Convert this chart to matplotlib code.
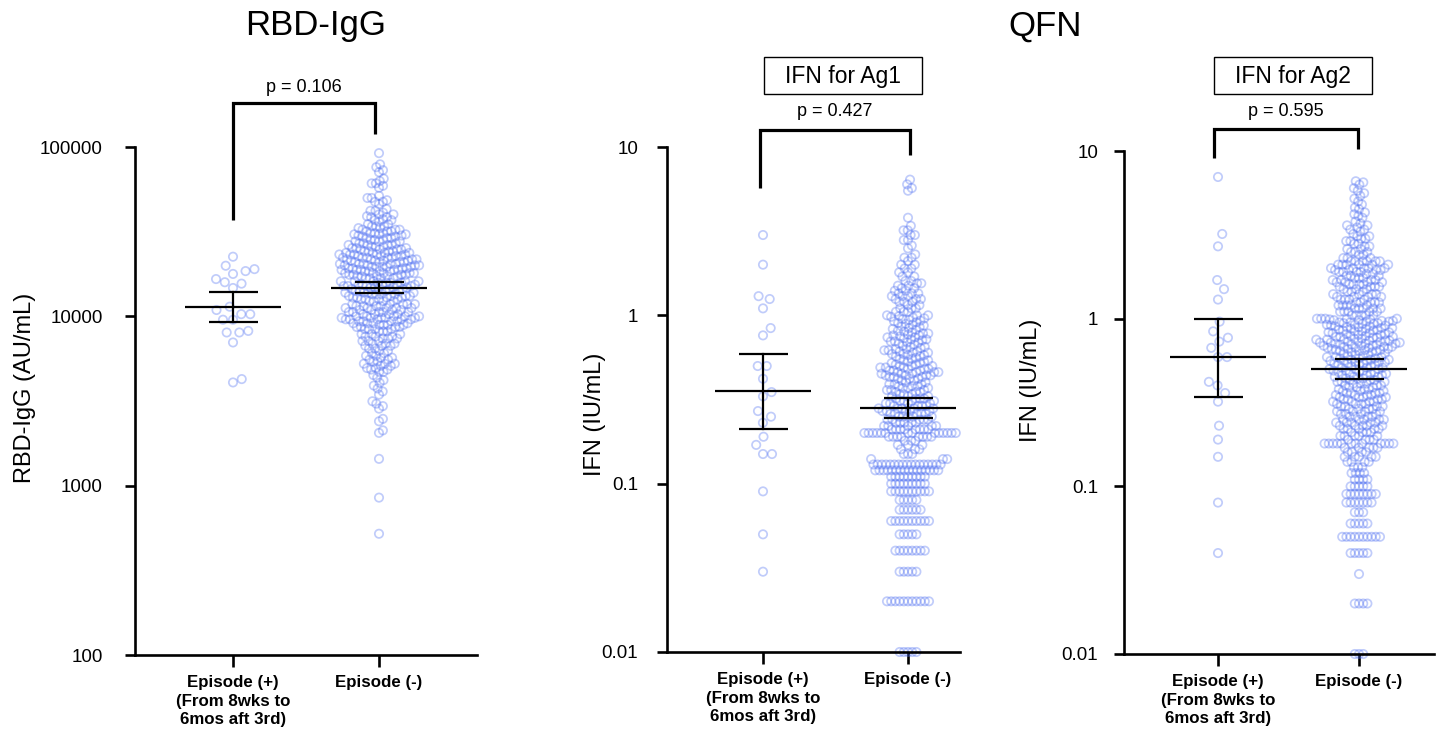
import numpy as np
import matplotlib
matplotlib.use('Agg')
import matplotlib.pyplot as plt
from matplotlib.patches import Rectangle
from matplotlib.lines import Line2D
from matplotlib.ticker import FixedLocator, FixedFormatter, NullLocator

plt.rcParams['font.family'] = ['Liberation Sans', 'DejaVu Sans']

FIG_W, FIG_H, DPI = 1436, 730, 100

# ---------------- data ----------------
group_labels = ['Episode (+)\n(From 8wks to\n6mos aft 3rd)', 'Episode (-)']

rbd_ticks = [100, 1000, 10000, 100000]
rbd_ticklabels = ['100', '1000', '10000', '100000']
ifn_ticks = [0.01, 0.1, 1, 10]
ifn_ticklabels = ['0.01', '0.1', '1', '10']

# RBD-IgG (AU/mL)
rbd_pos = [22500, 19900, 19000, 18500, 17800, 16600, 15900, 15600, 14700,
           11400, 10900, 10300, 10300, 9550, 9550, 8200, 8030, 8030, 7010,
           4260, 4070]
# (value, number of subjects at about that value)
rbd_neg = [
    (92000, 1), (79000, 1), (76000, 1), (73000, 1), (71000, 1),
    (65000, 1), (63000, 1), (61000, 2), (59000, 1), (57500, 1),
    (51500, 1), (50000, 2), (48500, 1), (47500, 2), (46000, 1),
    (43000, 1), (42000, 2), (41000, 1), (40000, 2), (39000, 1), (38500, 2),
    (37500, 1), (37000, 2), (36200, 1),
    (35000, 2), (34000, 3), (33200, 2), (32500, 3), (31800, 3), (31000, 3),
    (30500, 3), (30000, 2), (29600, 2),
    (29000, 3), (28300, 3), (27700, 3), (27000, 3), (26400, 4), (25800, 3),
    (25300, 3), (24800, 4),
    (24200, 4), (23700, 4), (23200, 5), (22700, 4), (22200, 5), (21700, 4),
    (21300, 4), (20900, 4),
    (20400, 5), (20000, 4), (19600, 5), (19200, 4), (18800, 5), (18400, 4),
    (18000, 5), (17600, 4), (17200, 5), (16800, 4),
    (16100, 5), (15800, 4), (15400, 5), (15100, 4), (14800, 4), (14500, 4),
    (14100, 4), (13800, 4), (13500, 4), (13200, 4), (12900, 4), (12600, 4),
    (12300, 4),
    (11800, 5), (11500, 4), (11200, 5), (10900, 4), (10600, 5), (10300, 4),
    (10000, 5), (9800, 5), (9600, 5),
    (9350, 4), (9100, 4), (8900, 4), (8650, 4), (8400, 4), (8150, 3),
    (7850, 3), (7600, 3), (7400, 3), (7150, 3), (6900, 3), (6700, 3),
    (6450, 2), (6250, 2), (6050, 2), (5850, 2), (5700, 2), (5550, 2),
    (5400, 2), (5250, 3), (5100, 2), (4950, 2), (4850, 2), (4700, 2),
    (4500, 1), (4350, 1), (4200, 1), (4050, 1), (3900, 1),
    (3750, 1), (3600, 1), (3450, 1),
    (3150, 1), (3050, 1), (2950, 1), (2850, 1),
    (2480, 1), (2400, 1), (2120, 1), (2050, 1),
    (1440, 1), (850, 1), (520, 1),
]

# QFN, IFN for Ag1 (IU/mL)
ag1_pos = [3.0, 2.0, 1.3, 1.25, 1.1, 0.84, 0.76, 0.50, 0.50, 0.42, 0.35, 0.33,
           0.27, 0.25, 0.23, 0.19, 0.17, 0.15, 0.15, 0.09, 0.05, 0.03]
ag1_neg = [
    (0.01, 5), (0.02, 11), (0.03, 5), (0.04, 8), (0.05, 5), (0.06, 10),
    (0.07, 6), (0.08, 5), (0.09, 10), (0.10, 9), (0.11, 9),
    (0.12, 16), (0.13, 17),
    (0.14, 3), (0.15, 3), (0.16, 3), (0.17, 3), (0.18, 3),
    (0.19, 8), (0.20, 14), (0.21, 8),
    (0.22, 5), (0.23, 5), (0.24, 5),
    (0.25, 5), (0.26, 5), (0.27, 5), (0.28, 5),
    (0.29, 4), (0.30, 4), (0.31, 4), (0.32, 4), (0.33, 3), (0.34, 3),
    (0.35, 3), (0.36, 3), (0.37, 3), (0.38, 3), (0.39, 3), (0.40, 2), (0.41, 2),
    (0.42, 3), (0.43, 3), (0.44, 4), (0.45, 3), (0.46, 4), (0.47, 3),
    (0.48, 3), (0.49, 3),
    (0.50, 3), (0.51, 2), (0.52, 2), (0.53, 2), (0.54, 2), (0.55, 2), (0.56, 1),
    (0.57, 2), (0.58, 2), (0.59, 2), (0.60, 2), (0.61, 2), (0.62, 2),
    (0.63, 2), (0.64, 1), (0.65, 2), (0.66, 1), (0.67, 1), (0.68, 1),
    (0.69, 2), (0.70, 2), (0.71, 1), (0.72, 2), (0.73, 1), (0.74, 2),
    (0.75, 1), (0.76, 2), (0.77, 1), (0.78, 2), (0.79, 1), (0.80, 1),
    (0.81, 1), (0.82, 1),
    (0.83, 1), (0.84, 1), (0.85, 1), (0.86, 1), (0.87, 1), (0.88, 1),
    (0.89, 1), (0.90, 1),
    (0.91, 1), (0.92, 1), (0.93, 1), (0.94, 1), (0.95, 1), (0.96, 1),
    (0.97, 1), (0.98, 1), (0.99, 1),
    (1.00, 3), (1.05, 3), (1.10, 3), (1.15, 2),
    (1.20, 3), (1.25, 3), (1.30, 3), (1.35, 3), (1.40, 2),
    (1.45, 2), (1.50, 2), (1.55, 2), (1.60, 2), (1.70, 2), (1.80, 2),
    (1.90, 2), (2.00, 2), (2.10, 1), (2.20, 2), (2.30, 1),
    (2.50, 1), (2.60, 1), (2.80, 2), (3.00, 2), (3.20, 2), (3.40, 1),
    (3.80, 1),
    (5.50, 1), (5.70, 1), (6.00, 1), (6.40, 1),
]

# QFN, IFN for Ag2 (IU/mL)
ag2_pos = [7.0, 3.2, 2.7, 1.7, 1.5, 1.3, 0.96, 0.84, 0.77, 0.73, 0.67, 0.59,
           0.59, 0.42, 0.40, 0.36, 0.32, 0.23, 0.19, 0.15, 0.08, 0.04]
ag2_neg = [
    (0.01, 3), (0.02, 4), (0.03, 1), (0.04, 5), (0.05, 10), (0.06, 5),
    (0.07, 3), (0.08, 7), (0.09, 8),
    (0.10, 5), (0.11, 4), (0.12, 4), (0.13, 3), (0.14, 4),
    (0.15, 5), (0.16, 4), (0.17, 5),
    (0.18, 12),
    (0.19, 4), (0.20, 5), (0.21, 4),
    (0.22, 5), (0.23, 5), (0.24, 5), (0.25, 5),
    (0.26, 4), (0.27, 4), (0.28, 4), (0.29, 4), (0.30, 4),
    (0.31, 4), (0.32, 4), (0.33, 4), (0.34, 4), (0.35, 4), (0.36, 4),
    (0.37, 3), (0.38, 3), (0.39, 3), (0.40, 3), (0.41, 3), (0.42, 3), (0.43, 3),
    (0.44, 3), (0.45, 3), (0.46, 3), (0.47, 3), (0.48, 3), (0.49, 3),
    (0.50, 3), (0.51, 3), (0.52, 2),
    (0.53, 3), (0.54, 3), (0.55, 3), (0.56, 3), (0.57, 3), (0.58, 3),
    (0.59, 3), (0.60, 2), (0.61, 2), (0.62, 2), (0.63, 2),
    (0.64, 3), (0.65, 3), (0.66, 3), (0.67, 3), (0.68, 3), (0.69, 3),
    (0.70, 3), (0.71, 3), (0.72, 3), (0.73, 3), (0.74, 3), (0.75, 3),
    (0.76, 2), (0.77, 2), (0.78, 3), (0.79, 2), (0.80, 2), (0.81, 2),
    (0.82, 2), (0.83, 2), (0.84, 2), (0.85, 2), (0.86, 2), (0.87, 2),
    (0.88, 2), (0.89, 2), (0.90, 2),
    (0.91, 2), (0.92, 2), (0.93, 2), (0.94, 2), (0.95, 2), (0.96, 2),
    (0.97, 2), (0.98, 2), (0.99, 2),
    (1.00, 5), (1.05, 5), (1.10, 5), (1.15, 5), (1.20, 5), (1.25, 5),
    (1.30, 4), (1.35, 4), (1.40, 4), (1.45, 3), (1.50, 3),
    (1.55, 4), (1.60, 4), (1.65, 4), (1.70, 4), (1.75, 3), (1.80, 3), (1.85, 2),
    (1.90, 4), (1.95, 4), (2.00, 5), (2.10, 6), (2.20, 6),
    (2.30, 3), (2.40, 2), (2.50, 3), (2.60, 2),
    (2.70, 2), (2.80, 2), (2.90, 2), (3.00, 2), (3.10, 2), (3.20, 1),
    (3.30, 1), (3.40, 2), (3.50, 1), (3.60, 2), (3.70, 1), (3.80, 1),
    (4.00, 1), (4.10, 1), (4.20, 1), (4.30, 1), (4.50, 1), (4.60, 1),
    (4.80, 1), (5.00, 1), (5.20, 1), (5.40, 1), (5.60, 1),
    (5.80, 1), (6.00, 1), (6.30, 1), (6.50, 1), (6.60, 1),
]

# geometric mean with 95% CI, [Episode (+), Episode (-)]
rbd_mean = [11400, 14800]
rbd_lo = [9200, 13700]
rbd_hi = [13900, 15900]
ag1_mean = [0.355, 0.281]
ag1_lo = [0.211, 0.247]
ag1_hi = [0.59, 0.321]
ag2_mean = [0.589, 0.501]
ag2_lo = [0.343, 0.436]
ag2_hi = [1.0, 0.575]

p_values = ['p = 0.106', 'p = 0.427', 'p = 0.595']
titles = ['RBD-IgG', 'QFN']
box_titles = ['IFN for Ag1', 'IFN for Ag2']
ylabels = ['RBD-IgG (AU/mL)', 'IFN (IU/mL)', 'IFN (IU/mL)']

# ---------------- style ----------------
POINT_COLOR = (0.30, 0.43, 0.95, 0.35)

fig = plt.figure(figsize=(FIG_W / DPI, FIG_H / DPI), dpi=DPI)


def fx(x):
    return x / FIG_W


def fy(y):
    return 1 - y / FIG_H


def expand(pairs):
    out = []
    for v, c in pairs:
        out += [v] * c
    return np.array(out, dtype=float)


def swarm(ypx, sx, sy):
    n = len(ypx)
    order = np.argsort(ypx, kind='stable')
    xs = np.zeros(n)
    PX = np.zeros(n)
    PY = np.zeros(n)
    k = 0
    for i in order:
        y = ypx[i]
        if k:
            m = np.abs(PY[:k] - y) < sy
            nbx = PX[:k][m]
            nby = PY[:k][m]
        else:
            nbx = np.zeros(0)
            nby = np.zeros(0)
        if len(nbx):
            d = sx * np.sqrt(np.clip(1 - ((nby - y) / sy) ** 2, 0, None))
            cands = np.concatenate([[0.0], nbx + d, nbx - d])
            idx = np.lexsort((-cands, np.abs(cands)))
            cands = cands[idx]
            dist = ((cands[:, None] - nbx[None, :]) / sx) ** 2 + ((nby[None, :] - y) / sy) ** 2
            ok = np.all(dist >= 0.999, axis=1)
            c = cands[np.argmax(ok)] if ok.any() else cands[-1]
        else:
            c = 0.0
        xs[i] = c
        PX[k] = c
        PY[k] = y
        k += 1
    return xs


def make_panel(left, right, top, bottom, t0, t1, ylim, ticks, ticklabels, ypad):
    ax = fig.add_axes([fx(left), fy(bottom), fx(right) - fx(left), fy(top) - fy(bottom)])
    unit = t1 - t0
    ax.set_xlim(-(t0 - left) / unit, 1 + (right - t1) / unit)
    ax.set_yscale('log')
    ax.set_ylim(*ylim)
    ax.yaxis.set_major_locator(FixedLocator(ticks))
    ax.yaxis.set_major_formatter(FixedFormatter(ticklabels))
    ax.yaxis.set_minor_locator(NullLocator())
    for s in ['top', 'right']:
        ax.spines[s].set_visible(False)
    for s in ['left', 'bottom']:
        ax.spines[s].set_linewidth(1.9)
    ax.tick_params(axis='y', direction='out', length=7.2, width=1.9,
                   labelsize=13.5, pad=ypad)
    ax.tick_params(axis='x', direction='out', length=8.5, width=1.9, pad=6)
    ax.set_xticks([0, 1])
    ax.set_xticklabels(group_labels, fontsize=12.2, fontweight='bold',
                       linespacing=1.3)
    ax.patch.set_alpha(0)
    return ax, unit


def draw_group(ax, unit, xc, vals, sx, sy):
    vals = np.asarray(vals, dtype=float)
    pts = ax.transData.transform(np.column_stack([np.zeros(len(vals)), vals]))
    off = swarm(pts[:, 1], sx, sy)
    ax.scatter(xc + off / unit, vals, s=36, facecolors='none',
               edgecolors=[POINT_COLOR], linewidths=1.25, clip_on=False, zorder=2)


def draw_stats(ax, unit, means, los, his):
    for xc, m, lo, hi in zip([0, 1], means, los, his):
        ax.plot([xc - 48 / unit, xc + 48 / unit], [m, m], color='k', lw=1.6,
                zorder=5, solid_capstyle='butt', clip_on=False)
        for v in (lo, hi):
            ax.plot([xc - 24.5 / unit, xc + 24.5 / unit], [v, v], color='k',
                    lw=1.6, zorder=5, solid_capstyle='butt', clip_on=False)
        ax.plot([xc, xc], [lo, hi], color='k', lw=1.6, zorder=5, clip_on=False)


def bracket(pts):
    xs = [fx(p[0]) for p in pts]
    ys = [fy(p[1]) for p in pts]
    fig.add_artist(Line2D(xs, ys, transform=fig.transFigure, color='k', lw=2.3,
                          solid_joinstyle='miter', solid_capstyle='butt'))


# ---------------- panels ----------------
ax1, u1 = make_panel(135, 477, 147, 655, 233, 379, (100, 100000),
                     rbd_ticks, rbd_ticklabels, 16)
ax2, u2 = make_panel(667, 960, 147, 652, 763, 908, (0.01, 10),
                     ifn_ticks, ifn_ticklabels, 13.5)
ax3, u3 = make_panel(1124, 1434, 151, 654, 1218, 1359, (0.01, 10),
                     ifn_ticks, ifn_ticklabels, 11.5)

draw_group(ax1, u1, 0, rbd_pos, 9.0, 14.0)
draw_group(ax1, u1, 1, expand(rbd_neg), 4.2, 6.5)
draw_group(ax2, u2, 0, ag1_pos, 9.0, 14.0)
draw_group(ax2, u2, 1, expand(ag1_neg), 4.2, 6.5)
draw_group(ax3, u3, 0, ag2_pos, 9.0, 14.0)
draw_group(ax3, u3, 1, expand(ag2_neg), 4.2, 6.5)

draw_stats(ax1, u1, rbd_mean, rbd_lo, rbd_hi)
draw_stats(ax2, u2, ag1_mean, ag1_lo, ag1_hi)
draw_stats(ax3, u3, ag2_mean, ag2_lo, ag2_hi)

# y labels
fig.text(fx(25), fy(388), ylabels[0], rotation=90, ha='center', va='center', fontsize=17)
fig.text(fx(595), fy(414), ylabels[1], rotation=90, ha='center', va='center', fontsize=17)
fig.text(fx(1031), fy(380), ylabels[2], rotation=90, ha='center', va='center', fontsize=17)

# titles
fig.text(fx(316), fy(26), titles[0], ha='center', va='center', fontsize=25)
fig.text(fx(1045), fy(26), titles[1], ha='center', va='center', fontsize=25)

# boxed sub-titles
for (x0, x1), label in zip([(764, 922), (1214, 1372)], box_titles):
    fig.add_artist(Rectangle((fx(x0), fy(94)), fx(x1) - fx(x0), fy(57) - fy(94),
                             transform=fig.transFigure, fill=False,
                             edgecolor='k', lw=1.0))
    fig.text(fx((x0 + x1) / 2), fy(76), label, ha='center', va='center', fontsize=16.5)

# significance brackets
bracket([(233, 220), (233, 103), (375, 103), (375, 134)])
bracket([(760, 188), (760, 130), (910, 130), (910, 155)])
bracket([(1214, 158), (1214, 129), (1358, 129), (1358, 149)])
fig.text(fx(304), fy(88), p_values[0], ha='center', va='center', fontsize=13)
fig.text(fx(835), fy(112), p_values[1], ha='center', va='center', fontsize=13)
fig.text(fx(1286), fy(112), p_values[2], ha='center', va='center', fontsize=13)

fig.savefig('out.png', dpi=DPI)
